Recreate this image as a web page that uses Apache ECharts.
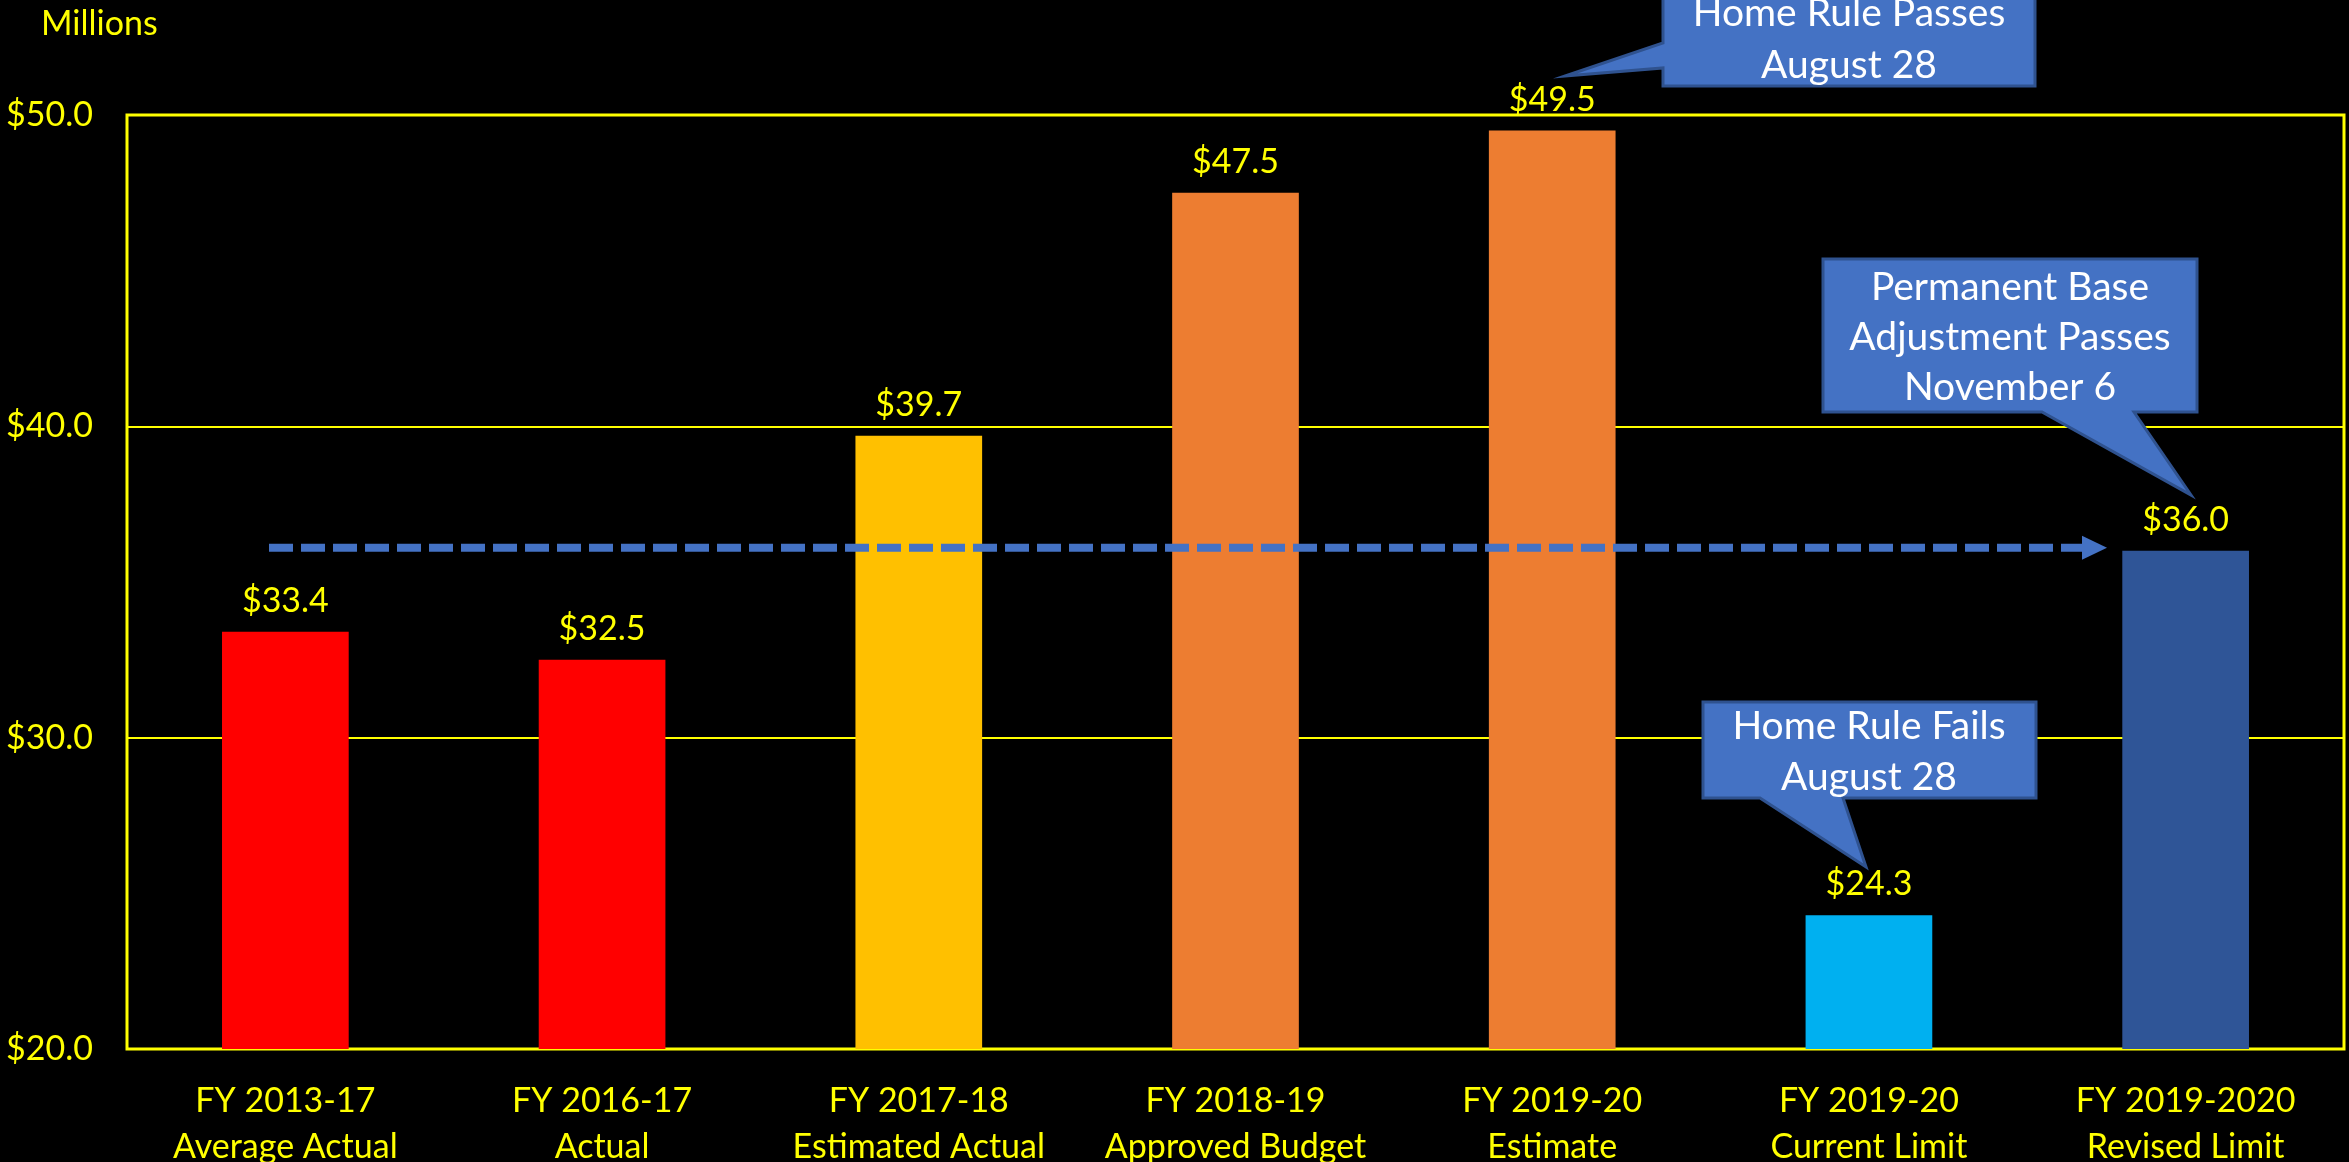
<!DOCTYPE html>
<html>
<head>
<meta charset="utf-8">
<script src="https://cdn.jsdelivr.net/npm/echarts@6/dist/echarts.min.js"></script>
<style>
html,body{margin:0;padding:0;background:#000;}
#c{width:2349px;height:1162px;}
</style>
</head>
<body>
<div id="c"></div>
<script>
var categories = [
  'FY 2013-17\nAverage Actual',
  'FY 2016-17\nActual',
  'FY 2017-18\nEstimated Actual',
  'FY 2018-19\nApproved Budget',
  'FY 2019-20\nEstimate',
  'FY 2019-20\nCurrent Limit',
  'FY 2019-2020\nRevised Limit'
];
var values = [33.4, 32.5, 39.7, 47.5, 49.5, 24.3, 36.0];
var barColors = ['#FF0000', '#FF0000', '#FFC000', '#ED7D31', '#ED7D31', '#00B0F0', '#2F5597'];
var yTicks = [20, 30, 40, 50];
var arrowLevel = 36.1;
var callouts = [
  'Home Rule Passes\nAugust 28',
  'Permanent Base\nAdjustment Passes\nNovember 6',
  'Home Rule Fails\nAugust 28'
];

var FONT = 'Lato';
var YEL = '#FFFF00';
var chart = echarts.init(document.getElementById('c'), null, {renderer: 'canvas'});

chart.setOption({
  backgroundColor: '#000000',
  animation: false,
  title: {
    text: 'Millions', left: 36, top: 2,
    textStyle: {color: YEL, fontFamily: FONT, fontSize: 34, fontWeight: 'normal'}
  },
  grid: {left: 127, right: 5, top: 115, bottom: 113, show: true, borderColor: YEL, borderWidth: 3,
    backgroundColor: 'transparent', containLabel: false, outerBoundsMode: 'none'},
  xAxis: {
    type: 'category', data: categories,
    axisLine: {show: false}, axisTick: {show: false},
    axisLabel: {color: YEL, fontFamily: FONT, fontSize: 34, lineHeight: 46, margin: 29, interval: 0}
  },
  yAxis: {
    type: 'value', min: yTicks[0], max: yTicks[yTicks.length - 1], interval: 10,
    axisLine: {show: false}, axisTick: {show: false},
    splitLine: {lineStyle: {color: YEL, width: 2}},
    axisLabel: {color: YEL, fontFamily: FONT, fontSize: 34, margin: 34,
      formatter: function (v) { return '$' + v.toFixed(1); }}
  },
  series: [{
    type: 'bar', barWidth: '40%',
    data: values.map(function (v, i) { return {value: v, itemStyle: {color: barColors[i]}}; }),
    label: {show: true, position: 'top', distance: 14, color: YEL, fontFamily: FONT, fontSize: 34,
      formatter: function (p) { return '$' + p.value.toFixed(1); }}
  }]
});

var y = chart.convertToPixel({yAxisIndex: 0}, arrowLevel);
var FILL = '#4472C4', STROKE = '#2F528F';
function callout(points, cx, cy, text, lh) {
  return [
    {type: 'polygon', z: 100, shape: {points: points}, style: {fill: FILL, stroke: STROKE, lineWidth: 3}},
    {type: 'text', z: 101, x: cx, y: cy, style: {text: text, fill: '#FFFFFF', font: '39px ' + FONT, lineHeight: lh, align: 'center', verticalAlign: 'middle'}}
  ];
}
var g = [];
g.push({type: 'line', z: 90, shape: {x1: 269, y1: y, x2: 2088, y2: y},
  style: {stroke: '#4472C4', lineWidth: 8, lineDash: [24, 8]}});
g.push({type: 'polygon', z: 90, shape: {points: [[2082, y - 12], [2107, y], [2082, y + 12]]}, style: {fill: '#4472C4'}});
g = g.concat(callout([[1663,-8],[2035,-8],[2035,86],[1663,86],[1663,68],[1565,76],[1663,43]], 1849, 39, callouts[0], 52));
g = g.concat(callout([[1823,259],[2197,259],[2197,412],[2134,412],[2191,495],[2042,412],[1823,412]], 2010, 337, callouts[1], 50));
g = g.concat(callout([[1703,702],[2036,702],[2036,798],[1843,798],[1866,867],[1760,798],[1703,798]], 1869, 752, callouts[2], 51));
chart.setOption({graphic: g});
</script>
</body>
</html>
